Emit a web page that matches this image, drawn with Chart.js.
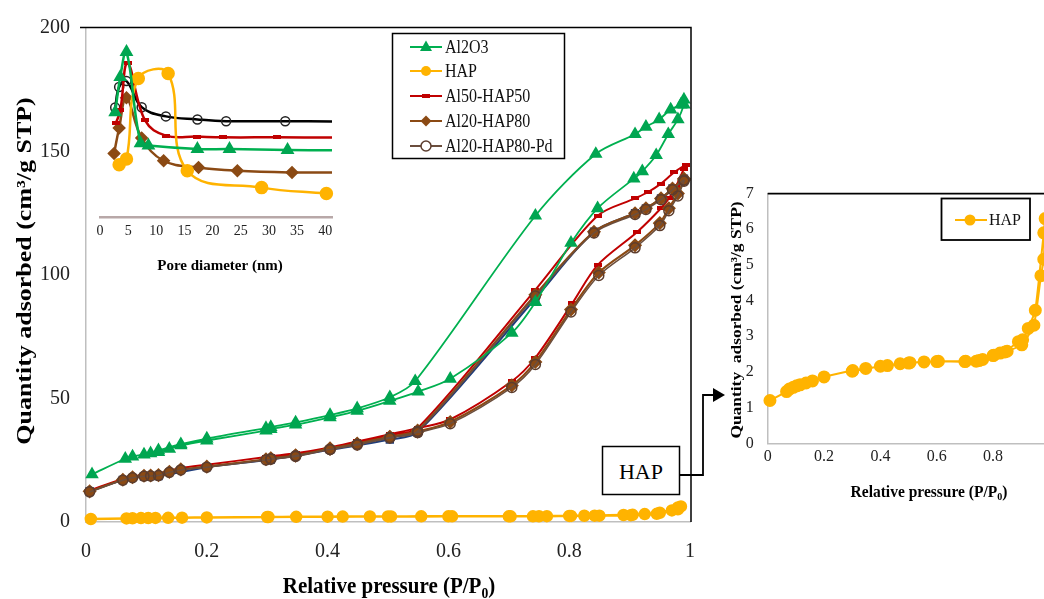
<!DOCTYPE html>
<html>
<head>
<meta charset="utf-8">
<script src="https://cdn.jsdelivr.net/npm/chart.js@4.4.1/dist/chart.umd.min.js"></script>
<style>
  html, body { margin: 0; padding: 0; background: #fff; overflow: hidden; }
  #wrap { position: relative; width: 1044px; height: 599px; overflow: hidden; }
  canvas, svg { position: absolute; }
  #main { left: 0; top: 0; }
  #pore { left: 0; top: 0; }
  #hap { left: 700px; top: 170px; }
  #links { left: 0; top: 0; }
</style>
</head>
<body>
<div id="wrap">
  <canvas id="main" width="700" height="599" style="width:700px;height:599px"></canvas>
  <canvas id="pore" width="345" height="280" style="width:345px;height:280px"></canvas>
  <canvas id="hap" width="400" height="340" style="width:400px;height:340px"></canvas>
  <svg id="links" width="1044" height="599">
    <rect x="602.5" y="446.5" width="77" height="48" fill="#fff" stroke="#000" stroke-width="1.5"/>
    <text x="641" y="479" text-anchor="middle" font-family="'Liberation Serif','Times New Roman',serif" font-size="22">HAP</text>
    <polyline points="679.5,475 703,475 703,395 714,395" fill="none" stroke="#000" stroke-width="1.8"/>
    <polygon points="713,388 725,395 713,402" fill="#000"/>
  </svg>
</div>

<script>
// isotermas N2 — ramo de adsorção (P/P0 crescente) + ramo de dessorção (decrescente)
const SERIF = "'Liberation Serif','Times New Roman',serif";

// Al2O3
const al2o3AdsP = [0.01,0.065,0.077,0.096,0.107,0.12,0.138,0.157,0.2,0.298,0.306,0.347,0.404,0.449,0.503,0.55,0.603,0.705,0.744,0.803,0.847,0.907,0.921,0.944,0.964,0.98,0.99];
const al2o3AdsQ = [19.3,25.6,26.5,27.3,27.8,28.3,29.6,31,33,37,37.6,39.4,42.4,45,49,52.8,58,76.6,89,113,127,139,142,148.5,157,163,169];
const al2o3DesP = [0.99,0.985,0.968,0.949,0.927,0.909,0.844,0.744,0.545,0.503,0.449,0.404,0.347,0.306,0.298,0.2,0.157,0.12];
const al2o3DesQ = [171,169,167,163,160,157,149,124,57,50.5,46,43.3,40.3,38.4,38,33.8,31.5,29];

// HAP
const hapAdsP = [0.008,0.067,0.077,0.091,0.103,0.115,0.136,0.159,0.2,0.302,0.348,0.425,0.47,0.505,0.555,0.606,0.703,0.74,0.763,0.803,0.825,0.842,0.89,0.905,0.925,0.95,0.98,0.985];
const hapAdsQ = [1.2,1.45,1.52,1.57,1.61,1.64,1.69,1.75,1.86,2.04,2.1,2.18,2.23,2.26,2.28,2.3,2.3,2.3,2.35,2.47,2.53,2.56,2.85,2.9,3.22,3.73,5.9,6.3];
const hapDesP = [0.98,0.97,0.945,0.902,0.85,0.8,0.75,0.7,0.6,0.5,0.4,0.3];
const hapDesQ = [5.16,4.7,3.31,2.76,2.58,2.46,2.32,2.29,2.29,2.25,2.16,2.02];

// Al50-HAP50
const al50AdsP = [0.006,0.061,0.077,0.096,0.107,0.12,0.138,0.157,0.2,0.298,0.306,0.347,0.404,0.449,0.503,0.549,0.603,0.705,0.744,0.805,0.847,0.913,0.952,0.965,0.977,0.99];
const al50AdsQ = [12.8,17.4,18.4,19.1,19.3,19.6,20.8,21.8,23.2,26.3,26.6,27.8,30.2,32.6,35.5,38,41.5,57,66.5,88.5,104,117.5,127,131,136,143];
const al50DesP = [0.993,0.974,0.952,0.93,0.909,0.847,0.744,0.549,0.503,0.449,0.404,0.347,0.306];
const al50DesQ = [144.5,141.6,137,133.5,131,124,94,38,35.2,32.2,29.8,27.3,26];

// Al20-HAP80
const al20AdsP = [0.006,0.061,0.077,0.096,0.107,0.12,0.138,0.157,0.2,0.298,0.306,0.347,0.404,0.449,0.503,0.549,0.603,0.705,0.744,0.803,0.849,0.909,0.95,0.965,0.98,0.99];
const al20AdsQ = [12.4,17.1,18.1,18.7,18.8,19,20.3,21.3,22.4,25.4,25.7,26.8,29.8,31.6,34.4,36.6,40.5,55.3,64.8,86,101,112,121,127,133,138.5];
const al20DesP = [0.99,0.971,0.952,0.927,0.909,0.841,0.744,0.549,0.503,0.449,0.404,0.347,0.306];
const al20DesQ = [139,135,131,127,125,117.5,92,37,34.5,31.8,29.6,27,25.8];

// Al20-HAP80-Pd
const pdAdsQ = [12.2,16.9,17.9,18.5,18.6,18.8,20.1,21.1,22.2,25.1,25.4,26.5,29.4,31.2,34,36.2,39.8,54.5,63.8,85,99.8,111,120,126,132,138];
const pdDesQ = [138.5,134.5,130.5,126.5,124.5,117,91.5,36.7,34.2,31.5,29.4,26.8,25.6];

// série azul escondida atrás (sem legenda)
const blueP = [0.006,0.061,0.096,0.12,0.2,0.306,0.404,0.503,0.549,0.744,0.841,0.909,0.927,0.952,0.971,0.99];
const blueQ = [12.5,17,18.4,18.6,22.2,25.3,29.2,33.4,36.3,90.5,117.5,125,127,131,135,139];

// distribuição de poros (inset)
const poreTicks = [0,5,10,15,20,25,30,35,40];
const poreAl2o3D = [2.7,3.6,4.7,7.2,8.6,17.3,23,33.3,41.2];
const poreAl2o3V = [54.6,72.9,86,38.4,37.2,35.4,35.4,34.9,34.8];
const poreHapD = [3.4,4.7,6.8,12.1,15.5,28.7,40.2];
const poreHapV = [27.2,30.2,72.1,74.7,24.1,15.3,12.2];
const poreAl50D = [2.8,3.6,4.9,8,11.7,17.3,21.8,31.4,41.2];
const poreAl50V = [48.7,55.5,80,50.3,42.4,41.9,41.5,41.5,41.4];
const poreAl20D = [2.5,3.4,4.7,7.4,11.3,17.5,24.4,34.1,41.2];
const poreAl20V = [33.1,46.4,62.1,41.2,29.3,25.8,24.1,23.2,23.2];
const porePdD = [2.7,3.4,4.7,7.4,11.7,17.3,22.4,32.9,41.2];
const porePdV = [57,67.7,70.8,57.2,52.4,50.8,49.9,49.9,49.7];

const legendNames = ["Al2O3", "HAP", "Al50-HAP50", "Al20-HAP80", "Al20-HAP80-Pd"];

function pts(xs, ys) { return xs.map((x, i) => ({ x: x, y: ys[i] })); }
function loopPts(ax, ay, dx, dy) { return pts(ax.concat(dx), ay.concat(dy)); }

// marcador vermelho tipo "traço"
const dash = document.createElement("canvas");
dash.width = 8; dash.height = 4;
const dctx = dash.getContext("2d");
dctx.fillStyle = "#C00000";
dctx.fillRect(0, 0, 8, 4);

function drawMarker(ctx, style, x, y, r, fill, stroke, lw) {
  if (style instanceof HTMLCanvasElement) {
    ctx.drawImage(style, x - style.width / 2, y - style.height / 2);
    return;
  }
  ctx.save();
  ctx.beginPath();
  ctx.fillStyle = fill;
  ctx.strokeStyle = stroke;
  ctx.lineWidth = lw;
  if (style === "circle") ctx.arc(x, y, r, 0, Math.PI * 2);
  else if (style === "triangle") {
    ctx.moveTo(x, y - r * 1.1); ctx.lineTo(x + r, y + r * 0.65); ctx.lineTo(x - r, y + r * 0.65); ctx.closePath();
  } else if (style === "rectRot") {
    ctx.moveTo(x, y - r); ctx.lineTo(x + r, y); ctx.lineTo(x, y + r); ctx.lineTo(x - r, y); ctx.closePath();
  } else ctx.rect(x - r, y - r, 2 * r, 2 * r);
  ctx.fill();
  if (lw) ctx.stroke();
  ctx.restore();
}

function titleSub(ctx, cx, base, size, stretch) {
  const a = "Relative pressure (P/P", s = "0", b = ")";
  ctx.save();
  ctx.fillStyle = "#000";
  ctx.textBaseline = "alphabetic";
  ctx.textAlign = "left";
  ctx.font = "bold " + size + "px " + SERIF;
  const wa = ctx.measureText(a).width, wb = ctx.measureText(b).width;
  ctx.font = "bold " + (size * 0.65) + "px " + SERIF;
  const ws = ctx.measureText(s).width;
  const x0 = cx - (wa + ws + wb) / 2;
  ctx.translate(0, base);
  ctx.scale(1, stretch);
  ctx.font = "bold " + size + "px " + SERIF;
  ctx.fillText(a, x0, 0);
  ctx.fillText(b, x0 + wa + ws, 0);
  ctx.font = "bold " + (size * 0.65) + "px " + SERIF;
  ctx.fillText(s, x0 + wa, size * 0.2);
  ctx.restore();
}

function titleV(ctx, text, cx, cy, size, stretch) {
  ctx.save();
  ctx.translate(cx, cy);
  ctx.rotate(-Math.PI / 2);
  ctx.scale(stretch, 1);
  ctx.font = "bold " + size + "px " + SERIF;
  ctx.fillStyle = "#000";
  ctx.textAlign = "center";
  ctx.textBaseline = "middle";
  ctx.fillText(text, 0, 0);
  ctx.restore();
}

const noGrid = { drawOnChartArea: false, drawTicks: false };
const grayBorder = { color: "#bfbfbf", width: 1.5 };
const fmt = v => String(Number(v.toFixed(1)));
const fixX = h => s => { s.height = h; s.paddingLeft = 0; s.paddingRight = 0; };

// ===== gráfico principal =====
const mainDatasets = [
  { label: legendNames[0], data: loopPts(al2o3AdsP, al2o3AdsQ, al2o3DesP, al2o3DesQ),
    borderColor: "#00B050", borderWidth: 1.8, backgroundColor: "#00A651", pointBorderColor: "#00A651",
    pointStyle: "triangle", pointRadius: 6, order: 1 },
  { label: legendNames[1], data: loopPts(hapAdsP, hapAdsQ, hapDesP, hapDesQ),
    borderColor: "#FFB300", borderWidth: 2.5, backgroundColor: "#FFB300", pointBorderColor: "#FFB300",
    pointStyle: "circle", pointRadius: 5, order: 2 },
  { label: legendNames[2], data: loopPts(al50AdsP, al50AdsQ, al50DesP, al50DesQ),
    borderColor: "#C00000", borderWidth: 2, backgroundColor: "#C00000", pointBorderColor: "#C00000",
    pointStyle: dash, pointRadius: 3, order: 5 },
  { label: legendNames[3], data: loopPts(al20AdsP, al20AdsQ, al20DesP, al20DesQ),
    borderColor: "#8B4A14", borderWidth: 2.2, backgroundColor: "#8B4A14", pointBorderColor: "#8B4A14",
    pointStyle: "rectRot", pointRadius: 5.5, order: 4 },
  { label: legendNames[4], data: loopPts(al20AdsP, pdAdsQ, al20DesP, pdDesQ),
    borderColor: "#6B4E3D", borderWidth: 1.5, backgroundColor: "rgba(255,255,255,0)", pointBorderColor: "#5C3D2E",
    pointBorderWidth: 1.5, pointStyle: "circle", pointRadius: 5, order: 3 },
  { label: "", data: pts(blueP, blueQ),
    borderColor: "#1F3D7A", borderWidth: 2, backgroundColor: "#1F3D7A", pointBorderColor: "#1F3D7A",
    pointStyle: "rect", pointRadius: 4.5, order: 6 }
];
mainDatasets.forEach(d => { d.showLine = true; d.tension = 0.3; d.clip = false; });

const mainDeco = {
  id: "mainDeco",
  afterDraw(chart) {
    const ctx = chart.ctx, a = chart.chartArea;
    ctx.save();
    ctx.strokeStyle = "#000";
    ctx.lineWidth = 1.5;
    ctx.beginPath();
    ctx.moveTo(80, a.top - 0.5);
    ctx.lineTo(a.right + 1, a.top - 0.5);
    ctx.lineTo(a.right + 1, a.bottom);
    ctx.stroke();
    // legenda
    ctx.lineWidth = 1.5;
    ctx.strokeRect(392.5, 33.5, 172, 125);
    const ys = [47, 71, 96, 121, 146];
    chart.data.datasets.slice(0, 5).forEach((ds, i) => {
      const y = ys[i];
      ctx.strokeStyle = ds.borderColor;
      ctx.lineWidth = 2;
      ctx.beginPath(); ctx.moveTo(410, y); ctx.lineTo(442, y); ctx.stroke();
      drawMarker(ctx, ds.pointStyle, 426, y, ds.pointRadius, ds.backgroundColor === "rgba(255,255,255,0)" ? "#fff" : ds.backgroundColor,
        ds.pointBorderColor, ds.pointBorderWidth || 0);
      ctx.save();
      ctx.translate(445, y + 6);
      ctx.scale(1, 1.12);
      ctx.fillStyle = "#111";
      ctx.font = "16px " + SERIF;
      ctx.textAlign = "left";
      ctx.textBaseline = "alphabetic";
      ctx.fillText(ds.label, 0, 0);
      ctx.restore();
    });
    ctx.restore();
    titleV(ctx, "Quantity adsorbed (cm³/g STP)", 25, 271, 22, 1.18);
    titleSub(ctx, 389, 593, 21, 1.12);
  }
};

new Chart(document.getElementById("main"), {
  type: "scatter",
  data: { datasets: mainDatasets },
  options: {
    responsive: false, animation: false, events: [],
    layout: { padding: { top: 25, right: 10, left: 0, bottom: 0 } },
    plugins: { legend: { display: false }, tooltip: { enabled: false } },
    scales: {
      x: { type: "linear", min: 0, max: 1,
        afterFit: fixX(77),
        ticks: { stepSize: 0.2, padding: 18, color: "#222", font: { family: SERIF, size: 20 }, callback: fmt },
        grid: noGrid, border: grayBorder },
      y: { min: 0, max: 200,
        afterFit: s => { s.width = 86; },
        ticks: { stepSize: 50, padding: 16, color: "#222", font: { family: SERIF, size: 20 } },
        grid: noGrid, border: grayBorder }
    }
  },
  plugins: [mainDeco]
});

// ===== inset: distribuição de poros =====
const poreDatasets = [
  { data: pts(poreAl2o3D, poreAl2o3V), borderColor: "#00B050", backgroundColor: "#00A651", pointBorderColor: "#00A651",
    pointStyle: "triangle", pointRadius: ctx => ctx.dataIndex === poreAl2o3D.length - 1 ? 0 : 5.5 },
  { data: pts(poreHapD, poreHapV), borderColor: "#FFB300", backgroundColor: "#FFB300", pointBorderColor: "#FFB300",
    pointStyle: "circle", pointRadius: 5.5 },
  { data: pts(poreAl50D, poreAl50V), borderColor: "#C00000", backgroundColor: "#C00000", pointBorderColor: "#C00000",
    pointStyle: dash, pointRadius: ctx => ctx.dataIndex === poreAl50D.length - 1 ? 0 : 3 },
  { data: pts(poreAl20D, poreAl20V), borderColor: "#8B4A14", backgroundColor: "#8B4A14", pointBorderColor: "#8B4A14",
    pointStyle: "rectRot", pointRadius: ctx => ctx.dataIndex === poreAl20D.length - 1 ? 0 : 5 },
  { data: pts(porePdD, porePdV), borderColor: "#000", backgroundColor: "rgba(255,255,255,0)", pointBorderColor: "#222",
    pointBorderWidth: 1.5, pointStyle: "circle", pointRadius: ctx => ctx.dataIndex === porePdD.length - 1 ? 0 : 4.5 }
];
poreDatasets.forEach(d => { d.showLine = true; d.tension = 0.4; d.borderWidth = 2.5; d.clip = false; });

new Chart(document.getElementById("pore"), {
  type: "scatter",
  data: { datasets: poreDatasets },
  options: {
    responsive: false, animation: false, events: [],
    layout: { padding: { top: 25, right: 13, left: 100, bottom: 0 } },
    plugins: { legend: { display: false }, tooltip: { enabled: false } },
    scales: {
      x: { type: "linear", min: 0, max: 41.2,
        afterFit: fixX(63),
        afterBuildTicks: s => { s.ticks = poreTicks.map(v => ({ value: v })); },
        ticks: { padding: 6, color: "#222", font: { family: SERIF, size: 14 } },
        grid: noGrid, border: { color: "#b8a8a8", width: 2.5 } },
      y: { display: false, min: 0, max: 100 }
    }
  },
  plugins: [{
    id: "poreTitle",
    afterDraw(chart) {
      const ctx = chart.ctx;
      ctx.save();
      ctx.font = "bold 15px " + SERIF;
      ctx.fillStyle = "#000";
      ctx.textAlign = "center";
      ctx.textBaseline = "middle";
      ctx.fillText("Pore diameter (nm)", 220, 266);
      ctx.restore();
    }
  }]
});

// ===== inset direito: HAP ampliado =====
new Chart(document.getElementById("hap"), {
  type: "scatter",
  data: { datasets: [{
    label: "HAP", data: loopPts(hapAdsP, hapAdsQ, hapDesP, hapDesQ),
    showLine: true, tension: 0.15, clip: false,
    borderColor: "#FFB300", borderWidth: 2, backgroundColor: "#FFB300", pointBorderColor: "#FFB300",
    pointStyle: "circle", pointRadius: 5.5
  }] },
  options: {
    responsive: false, animation: false, events: [],
    layout: { padding: { top: 19, right: 50.6, left: 0, bottom: 0 } },
    plugins: { legend: { display: false }, tooltip: { enabled: false } },
    scales: {
      x: { type: "linear", min: 0, max: 1,
        afterFit: fixX(66.7),
        ticks: { stepSize: 0.2, padding: 4, color: "#222", font: { family: SERIF, size: 16 }, callback: fmt },
        grid: noGrid, border: grayBorder },
      y: { min: 0, max: 7,
        afterFit: s => { s.width = 67.7; },
        ticks: { stepSize: 1, padding: 14, color: "#222", font: { family: SERIF, size: 16 } },
        grid: noGrid, border: grayBorder }
    }
  },
  plugins: [{
    id: "hapDeco",
    afterDraw(chart) {
      const ctx = chart.ctx, a = chart.chartArea;
      ctx.save();
      ctx.strokeStyle = "#000";
      ctx.lineWidth = 1.8;
      ctx.beginPath();
      ctx.moveTo(a.left, a.top);
      ctx.lineTo(a.right, a.top);
      ctx.lineTo(a.right, a.bottom);
      ctx.stroke();
      ctx.lineWidth = 1.8;
      ctx.strokeRect(241.5, 28.5, 88.5, 41.5);
      ctx.strokeStyle = "#FFB300";
      ctx.lineWidth = 2;
      ctx.beginPath(); ctx.moveTo(255, 50); ctx.lineTo(287, 50); ctx.stroke();
      drawMarker(ctx, "circle", 270, 50, 5.5, "#FFB300", "#FFB300", 0);
      ctx.fillStyle = "#111";
      ctx.font = "16px " + SERIF;
      ctx.textAlign = "left";
      ctx.textBaseline = "middle";
      ctx.fillText("HAP", 289, 51);
      ctx.restore();
      titleV(ctx, "Quantity  adsorbed (cm³/g STP)", 37, 150, 14.5, 1.2);
      titleSub(ctx, 229, 327, 15.5, 1.12);
    }
  }]
});
</script>
</body>
</html>
